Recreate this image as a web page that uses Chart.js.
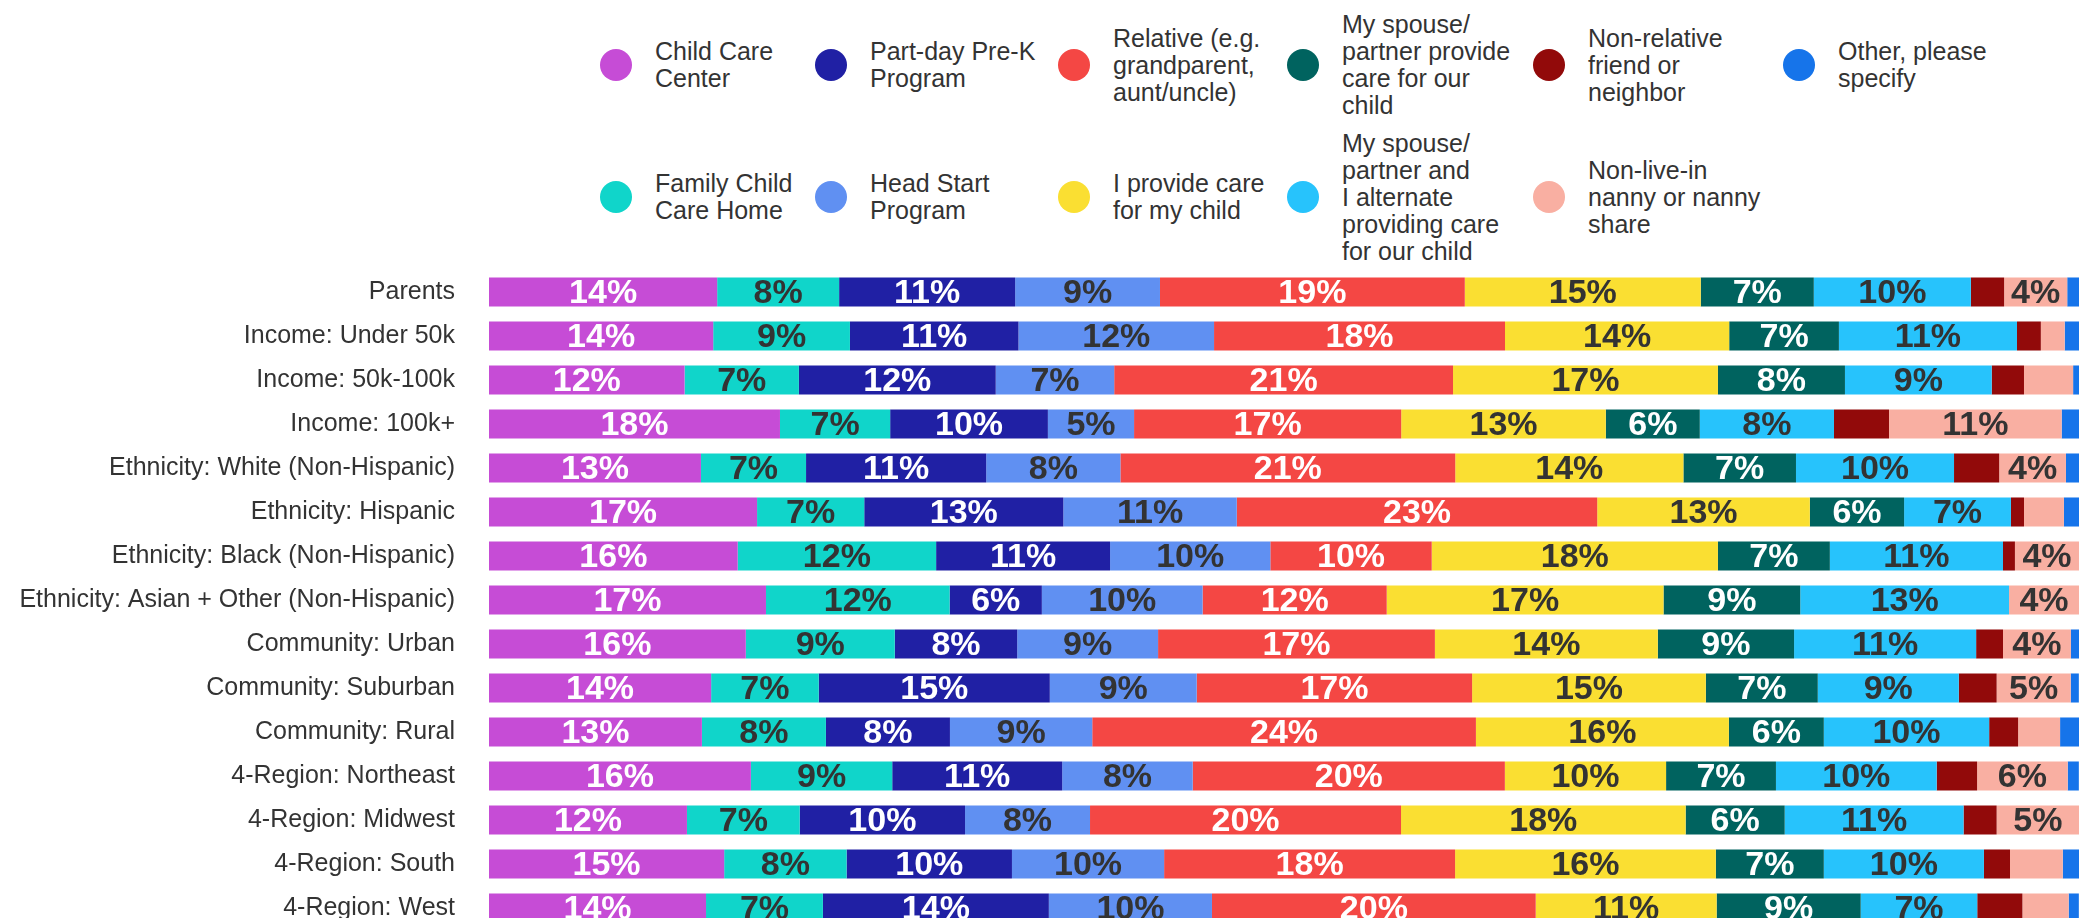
<!DOCTYPE html>
<html>
<head>
<meta charset="utf-8">
<script src="https://cdn.jsdelivr.net/npm/chart.js@4/dist/chart.umd.min.js"></script>
<style>
  html, body { margin: 0; padding: 0; background: #fff; overflow: hidden; width: 2083px; height: 918px; }
  #legend {
    position: absolute; left: 600px; top: 0;
    display: grid; grid-auto-flow: column;
    grid-template-rows: 130px 134px;
    grid-template-columns: 215px 243px 229px 246px 250px 250px;
    font-family: "Liberation Sans", Arial, sans-serif; font-size: 25px; line-height: 27px; color: #333;
  }
  .item { display: flex; align-items: center; }
  .dot { width: 32px; height: 32px; border-radius: 50%; margin-right: 23px; flex: none; }
  .txt { white-space: pre-line; }
  #wrap { position: absolute; left: 0; top: 270px; width: 2083px; height: 660px; }
</style>
</head>
<body>
<div id="legend"></div>
<div id="wrap"><canvas id="careChart"></canvas></div>
<script>
const categories = [
  'Parents', 'Income: Under 50k', 'Income: 50k-100k', 'Income: 100k+',
  'Ethnicity: White (Non-Hispanic)', 'Ethnicity: Hispanic', 'Ethnicity: Black (Non-Hispanic)',
  'Ethnicity: Asian + Other (Non-Hispanic)', 'Community: Urban', 'Community: Suburban',
  'Community: Rural', '4-Region: Northeast', '4-Region: Midwest', '4-Region: South', '4-Region: West'
];

const seriesNames = [
  'Child Care\nCenter',
  'Family Child\nCare Home',
  'Part-day Pre-K\nProgram',
  'Head Start\nProgram',
  'Relative (e.g.\ngrandparent,\naunt/uncle)',
  'I provide care\nfor my child',
  'My spouse/\npartner provide\ncare for our\nchild',
  'My spouse/\npartner and\nI alternate\nproviding care\nfor our child',
  'Non-relative\nfriend or\nneighbor',
  'Non-live-in\nnanny or nanny\nshare',
  'Other, please\nspecify'
];

const seriesColors = ['#c64cd6', '#10d5ca', '#2020a4', '#6090f2', '#f44744', '#fadf32',
                      '#00635f', '#27c3fc', '#920a0a', '#f9afa2', '#1674ea'];
const labelColors = ['#fff', '#333', '#fff', '#333', '#fff', '#333', '#fff', '#333', '#fff', '#333', '#333'];

// percent of respondents per group
const childCareCenter = [14.35, 14.1, 12.30, 18.30, 13.33, 16.86, 15.64, 17.42, 16.15, 13.97, 13.39, 16.47, 12.45, 14.79, 13.65];
const familyChildCare = [7.67, 8.6, 7.19, 6.93, 6.61, 6.74, 12.48, 11.55, 9.37, 6.77, 7.80, 8.89, 7.09, 7.70, 7.35];
const partDayPreK     = [11.07, 10.6, 12.38, 9.92, 11.33, 12.52, 10.94, 5.80, 7.70, 14.53, 7.80, 10.69, 10.40, 10.40, 14.21];
const headStart       = [9.11, 12.3, 7.45, 5.42, 8.44, 10.91, 10.08, 10.11, 8.86, 9.24, 8.95, 8.21, 7.86, 9.57, 10.26];
const relative        = [19.17, 18.3, 21.31, 16.80, 21.06, 22.67, 10.15, 11.58, 17.41, 17.32, 24.13, 19.63, 19.56, 18.30, 20.36];
const iProvide        = [14.84, 14.1, 16.66, 12.87, 14.35, 13.37, 18.00, 17.41, 14.02, 14.70, 15.91, 10.14, 17.90, 16.40, 11.38];
const spouseProvides  = [7.11, 6.9, 7.99, 5.91, 7.08, 5.93, 7.04, 8.60, 8.57, 7.04, 5.97, 6.91, 6.23, 6.79, 9.06];
const weAlternate     = [9.88, 11.2, 9.23, 8.44, 9.94, 6.72, 10.89, 13.13, 11.45, 8.87, 10.40, 10.11, 11.25, 10.07, 7.33];
const nonRelative     = [2.09, 1.5, 2.03, 3.46, 2.84, 0.82, 0.75, 0, 1.69, 2.38, 1.82, 2.54, 2.08, 1.64, 2.84];
const nanny           = [3.97, 1.5, 3.09, 10.86, 4.20, 2.51, 4.03, 4.40, 4.27, 4.66, 2.64, 5.70, 5.18, 3.32, 2.91];
const other           = [0.74, 0.9, 0.38, 1.09, 0.84, 0.96, 0, 0, 0.51, 0.51, 1.19, 0.70, 0, 1.03, 0.64];

const seriesValues = [childCareCenter, familyChildCare, partDayPreK, headStart, relative, iProvide,
                      spouseProvides, weAlternate, nonRelative, nanny, other];

const FONT = '"Liberation Sans", Arial, sans-serif';

// percentages drawn inside each segment
const barLabels = {
  id: 'barLabels',
  afterDatasetsDraw(chart) {
    const ctx = chart.ctx;
    ctx.save();
    ctx.font = 'bold 34px ' + FONT;
    ctx.textAlign = 'center';
    ctx.textBaseline = 'alphabetic';
    chart.data.datasets.forEach((ds, i) => {
      chart.getDatasetMeta(i).data.forEach((bar, j) => {
        const v = ds.data[j];
        if (v < 3.5) return;
        const p = bar.getCenterPoint();
        ctx.fillStyle = labelColors[i];
        ctx.fillText(Math.round(v) + '%', p.x, p.y + 10.5);
      });
    });
    ctx.restore();
  }
};

const ctx = document.getElementById('careChart').getContext('2d');
const chart = new Chart(ctx, {
  type: 'bar',
  data: {
    labels: categories,
    datasets: seriesValues.map((vals, i) => ({
      label: seriesNames[i],
      data: vals,
      backgroundColor: seriesColors[i],
      borderWidth: 0,
      barPercentage: 0.66,
      categoryPercentage: 1
    }))
  },
  options: {
    indexAxis: 'y',
    responsive: true,
    maintainAspectRatio: false,
    animation: false,
    layout: { padding: { left: 0, right: 4, top: 0, bottom: 0 } },
    plugins: {
      legend: { display: false },
      tooltip: { enabled: false }
    },
    scales: {
      x: { stacked: true, min: 0, max: 100, display: false },
      y: {
        stacked: true,
        grid: { display: false, drawTicks: false },
        border: { display: false },
        ticks: { padding: 34, color: '#333', font: { family: FONT, size: 25 } },
        afterFit: scale => {
          scale.width = 489;
          scale.paddingTop = 0;
          scale.paddingBottom = 0;
        }
      }
    }
  },
  plugins: [barLabels]
});

// legend laid out in two rows, filled column by column
const legendEl = document.getElementById('legend');
chart.options.plugins.legend.labels.generateLabels(chart).forEach(item => {
  const div = document.createElement('div');
  div.className = 'item';
  div.innerHTML = '<span class="dot" style="background:' + item.fillStyle + '"></span><span class="txt"></span>';
  div.querySelector('.txt').textContent = item.text;
  legendEl.appendChild(div);
});
</script>
</body>
</html>
